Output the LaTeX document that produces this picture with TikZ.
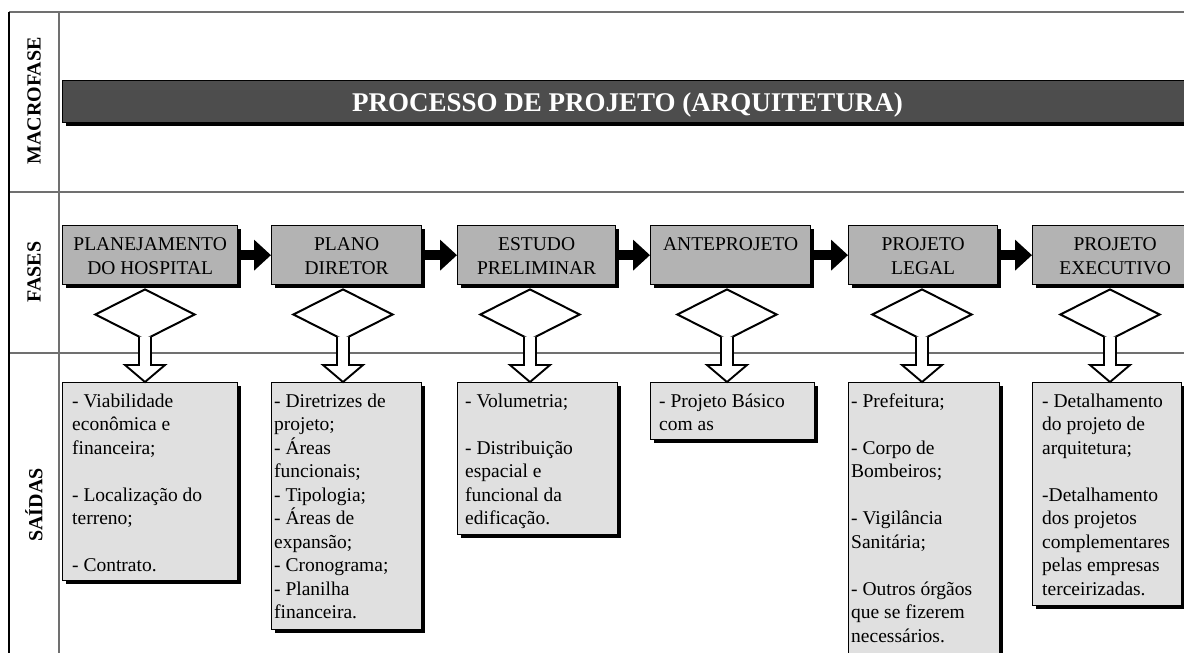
\documentclass[tikz,border=0pt]{standalone}
\usepackage{fontspec}
\setmainfont{Liberation Serif}
\usetikzlibrary{shapes.geometric,arrows.meta,shadows,calc}
\definecolor{phasegray}{HTML}{B3B3B3}
\definecolor{outgray}{HTML}{E0E0E0}
\definecolor{bannergray}{HTML}{4D4D4D}
\definecolor{gridgray}{HTML}{707070}
\newcommand\hollowdown[2]{%
  \draw[hollowarrow] let \p1=(#1.south), \p2=(#2.north) in
    (\x1-6pt,\y1+4.5pt) -- (\x1-6pt,\y2+17pt) -- (\x1-20pt,\y2+17pt) -- (\x1,\y2)
    -- (\x1+20pt,\y2+17pt) -- (\x1+6pt,\y2+17pt) -- (\x1+6pt,\y1+4.5pt);}
\begin{document}
\begin{tikzpicture}[x=1pt,y=-1pt,
  shadowed/.style={draw=black, line width=1.3pt,
    drop shadow={shadow xshift=3pt, shadow yshift=-3pt, fill=black, opacity=1}},
  phasebox/.style={shadowed, fill=phasegray, rectangle, inner sep=0pt, anchor=north west, minimum height=59pt},
  outbox/.style={shadowed, fill=outgray, rectangle, inner sep=0pt, anchor=north west},
  phasetext/.style={anchor=north, inner sep=0pt, align=center, font=\fontsize{19.5}{24.5}\selectfont},
  outtext/.style={anchor=north west, inner sep=0pt, align=left, font=\fontsize{19.5}{23.5}\selectfont},
  dec/.style={diamond, draw=black, line width=2pt, fill=white, minimum width=100pt, minimum height=51pt, inner sep=0pt, anchor=north},
  flow/.style={line width=10pt, -{Triangle[length=17pt,width=30pt]}},
  hollowarrow/.style={draw=black, line width=1.9pt, fill=white, line join=miter},
  rowlabel/.style={rotate=90, inner sep=0pt, font=\bfseries\fontsize{20}{24}\selectfont},
  gridline/.style={draw=gridgray, line width=1.2pt}
]
\useasboundingbox (0,0) rectangle (1184,653);
\clip (0,0) rectangle (1184,653);

% table grid
\draw[gridline] (9,12) -- (1184,12);
\draw[gridline] (9,192) -- (1184,192);
\draw[gridline] (9,353) -- (1184,353);
\draw[gridline] (59,12) -- (59,653);
\draw[draw=black, line width=1.2pt] (9,12) -- (9,653);

% row labels
\node[rowlabel] (lmacro) at (34,101) {MACROFASE};
\node[rowlabel] (lfases) at (34,272) {FASES};
\node[rowlabel] (lsaidas) at (34,505) {SAÍDAS};

% banner
\node[shadowed, fill=bannergray, rectangle, inner sep=0pt, anchor=north west,
  minimum width=1131pt, minimum height=42pt] (banner) at (62,80) {};
\node[anchor=base, inner sep=0pt, text=white, font=\bfseries\fontsize{27}{30}\selectfont]
  (title) at (627.5,111.7) {PROCESSO DE PROJETO (ARQUITETURA)};

% phase boxes
\node[phasebox, minimum width=175pt] (b1) at (62,225) {};
\node[phasebox, minimum width=150pt] (b2) at (271,225) {};
\node[phasebox, minimum width=158pt] (b3) at (457,225) {};
\node[phasebox, minimum width=160pt] (b4) at (650,225) {};
\node[phasebox, minimum width=149pt] (b5) at (848,225) {};
\node[phasebox, minimum width=165pt] (b6) at (1032,225) {};

\node[phasetext] (t1) at ($(b1.north)+(0,7.85)$) {\strut PLANEJAMENTO\\DO HOSPITAL};
\node[phasetext] (t2) at ($(b2.north)+(0,7.85)$) {\strut PLANO\\DIRETOR};
\node[phasetext] (t3) at ($(b3.north)+(0,7.85)$) {\strut ESTUDO\\PRELIMINAR};
\node[phasetext] (t4) at ($(b4.north)+(0,7.85)$) {\strut ANTEPROJETO};
\node[phasetext] (t5) at ($(b5.north)+(0,7.85)$) {\strut PROJETO\\LEGAL};
\node[phasetext] (t6) at ($(b6.north)+(0,7.85)$) {\strut PROJETO\\EXECUTIVO};

% flow arrows
\draw[flow] (b1.east) -- (b2.west);
\draw[flow] (b2.east) -- (b3.west);
\draw[flow] (b3.east) -- (b4.west);
\draw[flow] (b4.east) -- (b5.west);
\draw[flow] (b5.east) -- (b6.west);

% output boxes
\node[outbox, minimum width=175pt, minimum height=198pt] (o1) at (62,382) {};
\node[outbox, minimum width=150pt, minimum height=247pt] (o2) at (271,382) {};
\node[outbox, minimum width=160pt, minimum height=152pt] (o3) at (457,382) {};
\node[outbox, minimum width=164pt, minimum height=57pt] (o4) at (650,382) {};
\node[outbox, minimum width=151pt, minimum height=320pt] (o5) at (848,382) {};
\node[outbox, minimum width=149pt, minimum height=223pt] (o6) at (1032,382) {};

\node[outtext] (s1) at ($(o1.north west)+(10,8.55)$) {\strut - Viabilidade\\econômica e\\financeira;\\[23.5pt]- Localização do\\terreno;\\[23.5pt]- Contrato.};
\node[outtext] (s2) at ($(o2.north west)+(3,8.55)$) {\strut - Diretrizes de\\projeto;\\- Áreas\\funcionais;\\- Tipologia;\\- Áreas de\\expansão;\\- Cronograma;\\- Planilha\\financeira.};
\node[outtext] (s3) at ($(o3.north west)+(8,8.55)$) {\strut - Volumetria;\\[23.5pt]- Distribuição\\espacial e\\funcional da\\edificação.};
\node[outtext] (s4) at ($(o4.north west)+(9,8.55)$) {\strut - Projeto Básico\\com as};
\node[outtext] (s5) at ($(o5.north west)+(3,8.55)$) {\strut - Prefeitura;\\[23.5pt]- Corpo de\\Bombeiros;\\[23.5pt]- Vigilância\\Sanitária;\\[23.5pt]- Outros órgãos\\que se fizerem\\necessários.};
\node[outtext] (s6) at ($(o6.north west)+(10,8.55)$) {\strut - Detalhamento\\do projeto de\\arquitetura;\\[23.5pt]-Detalhamento\\dos projetos\\complementares\\pelas empresas\\terceirizadas.};

% diamonds
\node[dec] (d1) at (145,288) {};
\node[dec] (d2) at (343,288) {};
\node[dec] (d3) at (530,288) {};
\node[dec] (d4) at (727,288) {};
\node[dec] (d5) at (922,288) {};
\node[dec] (d6) at (1110,288) {};

% hollow arrows from diamonds to output boxes
\hollowdown{d1}{o1}
\hollowdown{d2}{o2}
\hollowdown{d3}{o3}
\hollowdown{d4}{o4}
\hollowdown{d5}{o5}
\hollowdown{d6}{o6}
\end{tikzpicture}
\end{document}
